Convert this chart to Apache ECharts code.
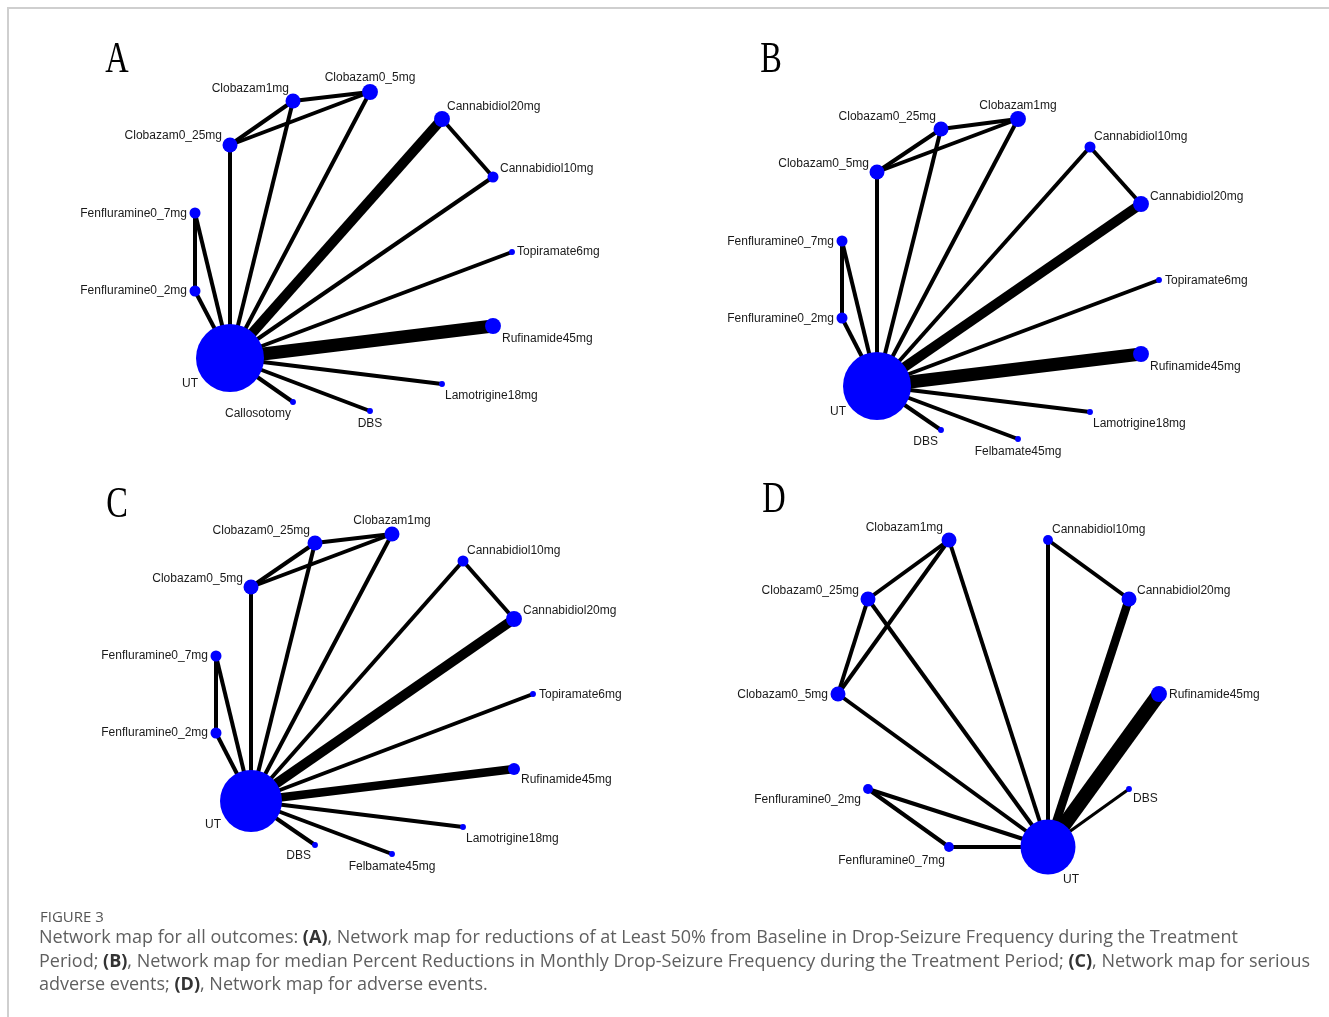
<!DOCTYPE html>
<html>
<head>
<meta charset="utf-8">
<script src="https://cdn.jsdelivr.net/npm/echarts@6/dist/echarts.min.js"></script>
<style>
  html, body { margin: 0; padding: 0; background: #fff; }
  #chart { width: 1329px; height: 1017px; }
</style>
</head>
<body>
<div id="chart"></div>
<script>
// ---- panel A: >=50% reduction in drop-seizure frequency ----
const nodesA = ['UT', 'Clobazam0_25mg', 'Clobazam1mg', 'Clobazam0_5mg', 'Cannabidiol20mg', 'Cannabidiol10mg',
  'Fenfluramine0_7mg', 'Fenfluramine0_2mg', 'Topiramate6mg', 'Rufinamide45mg', 'Lamotrigine18mg', 'DBS', 'Callosotomy'];
const xA = [160, 160, 223, 300, 372, 423, 125, 125, 442, 423, 372, 300, 223];
const yA = [318, 105, 61, 52, 79, 137, 173, 251, 212, 286, 344, 371, 362];
const patientsA = [803, 39, 39, 44, 44, 21, 21, 21, 6, 44, 6, 6, 6];
const linksA = [
  ['UT', 'Clobazam0_25mg', 1], ['UT', 'Clobazam1mg', 1], ['UT', 'Clobazam0_5mg', 1], ['UT', 'Cannabidiol20mg', 3],
  ['UT', 'Cannabidiol10mg', 1], ['UT', 'Fenfluramine0_7mg', 1], ['UT', 'Fenfluramine0_2mg', 1], ['UT', 'Topiramate6mg', 1],
  ['UT', 'Rufinamide45mg', 4], ['UT', 'Lamotrigine18mg', 1], ['UT', 'DBS', 1], ['UT', 'Callosotomy', 1],
  ['Clobazam0_25mg', 'Clobazam1mg', 1], ['Clobazam0_25mg', 'Clobazam0_5mg', 1], ['Clobazam1mg', 'Clobazam0_5mg', 1],
  ['Cannabidiol20mg', 'Cannabidiol10mg', 1], ['Fenfluramine0_7mg', 'Fenfluramine0_2mg', 1]
];

// ---- panel B: median percent reduction ----
const nodesB = ['UT', 'Clobazam0_25mg', 'Clobazam1mg', 'Clobazam0_5mg', 'Cannabidiol10mg', 'Cannabidiol20mg',
  'Fenfluramine0_7mg', 'Fenfluramine0_2mg', 'Topiramate6mg', 'Rufinamide45mg', 'Lamotrigine18mg', 'Felbamate45mg', 'DBS'];
const xB = [177, 241, 318, 177, 390, 441, 142, 142, 459, 441, 390, 318, 241];
const yB = [346, 89, 79, 132, 107, 164, 201, 278, 240, 314, 372, 399, 390];
const patientsB = [803, 39, 44, 39, 21, 44, 21, 21, 6, 44, 6, 6, 6];
const linksB = [
  ['UT', 'Clobazam0_25mg', 1], ['UT', 'Clobazam1mg', 1], ['UT', 'Clobazam0_5mg', 1], ['UT', 'Cannabidiol10mg', 1],
  ['UT', 'Cannabidiol20mg', 3], ['UT', 'Fenfluramine0_7mg', 1], ['UT', 'Fenfluramine0_2mg', 1], ['UT', 'Topiramate6mg', 1],
  ['UT', 'Rufinamide45mg', 4], ['UT', 'Lamotrigine18mg', 1], ['UT', 'Felbamate45mg', 1], ['UT', 'DBS', 1],
  ['Clobazam0_25mg', 'Clobazam1mg', 1], ['Clobazam0_5mg', 'Clobazam0_25mg', 1], ['Clobazam0_5mg', 'Clobazam1mg', 1],
  ['Cannabidiol10mg', 'Cannabidiol20mg', 1], ['Fenfluramine0_7mg', 'Fenfluramine0_2mg', 1]
];

// ---- panel C: serious adverse events ----
const nodesC = nodesB;
const xC = [181, 245, 322, 181, 393, 444, 146, 146, 463, 444, 393, 322, 245];
const yC = [321, 63, 54, 107, 81, 139, 176, 253, 214, 289, 347, 374, 365];
const patientsC = [667, 39, 39, 39, 21, 44, 21, 21, 6, 25, 6, 6, 6];
const linksC = [
  ['UT', 'Clobazam0_25mg', 1], ['UT', 'Clobazam1mg', 1], ['UT', 'Clobazam0_5mg', 1], ['UT', 'Cannabidiol10mg', 1],
  ['UT', 'Cannabidiol20mg', 3], ['UT', 'Fenfluramine0_7mg', 1], ['UT', 'Fenfluramine0_2mg', 1], ['UT', 'Topiramate6mg', 1],
  ['UT', 'Rufinamide45mg', 2.5], ['UT', 'Lamotrigine18mg', 1], ['UT', 'Felbamate45mg', 1], ['UT', 'DBS', 1],
  ['Clobazam0_25mg', 'Clobazam1mg', 1], ['Clobazam0_5mg', 'Clobazam0_25mg', 1], ['Clobazam0_5mg', 'Clobazam1mg', 1],
  ['Cannabidiol10mg', 'Cannabidiol20mg', 1], ['Fenfluramine0_7mg', 'Fenfluramine0_2mg', 1]
];

// ---- panel D: adverse events ----
const nodesD = ['UT', 'Clobazam1mg', 'Cannabidiol10mg', 'Clobazam0_25mg', 'Cannabidiol20mg', 'Clobazam0_5mg',
  'Rufinamide45mg', 'Fenfluramine0_2mg', 'DBS', 'Fenfluramine0_7mg'];
const xD = [348, 249, 348, 168, 429, 138, 459, 168, 429, 249];
const yD = [367, 60, 60, 119, 119, 214, 214, 309, 309, 367];
const patientsD = [525, 39, 17, 39, 39, 39, 44, 17, 6, 17];
const linksD = [
  ['UT', 'Clobazam1mg', 1], ['UT', 'Clobazam0_25mg', 1], ['UT', 'Clobazam0_5mg', 1], ['UT', 'Cannabidiol10mg', 1],
  ['UT', 'Cannabidiol20mg', 2.5], ['UT', 'Rufinamide45mg', 4.5], ['UT', 'DBS', 0.7], ['UT', 'Fenfluramine0_2mg', 1],
  ['UT', 'Fenfluramine0_7mg', 1], ['Clobazam1mg', 'Clobazam0_25mg', 1], ['Clobazam1mg', 'Clobazam0_5mg', 1],
  ['Clobazam0_25mg', 'Clobazam0_5mg', 1], ['Cannabidiol10mg', 'Cannabidiol20mg', 1], ['Fenfluramine0_2mg', 'Fenfluramine0_7mg', 1]
];

const panelLetters = ['A', 'B', 'C', 'D'];
const captionHead = 'FIGURE 3';
const captionLines = [
  'Network map for all outcomes: {b|(A)}, Network map for reductions of at Least 50% from Baseline in Drop-Seizure Frequency during the Treatment',
  'Period; {b|(B)}, Network map for median Percent Reductions in Monthly Drop-Seizure Frequency during the Treatment Period; {b|(C)}, Network map for serious',
  'adverse events; {b|(D)}, Network map for adverse events.'
];

// label placement per node: [align, dx, dy] from node centre
const labA = {
  UT: ['right', -32, 26], Clobazam0_25mg: ['right', -8, -9], Clobazam1mg: ['right', -4, -12], Clobazam0_5mg: ['center', 0, -14],
  Cannabidiol20mg: ['left', 5, -12], Cannabidiol10mg: ['left', 7, -8], Fenfluramine0_7mg: ['right', -8, 1],
  Fenfluramine0_2mg: ['right', -8, 0], Topiramate6mg: ['left', 5, 0], Rufinamide45mg: ['left', 9, 13],
  Lamotrigine18mg: ['left', 3, 12], DBS: ['center', 0, 13], Callosotomy: ['right', -2, 12]
};
const labB = {
  UT: ['right', -31, 26], Clobazam0_25mg: ['right', -5, -12], Clobazam1mg: ['center', 0, -13], Clobazam0_5mg: ['right', -8, -8],
  Cannabidiol10mg: ['left', 4, -10], Cannabidiol20mg: ['left', 9, -7], Fenfluramine0_7mg: ['right', -8, 1],
  Fenfluramine0_2mg: ['right', -8, 1], Topiramate6mg: ['left', 6, 1], Rufinamide45mg: ['left', 9, 13],
  Lamotrigine18mg: ['left', 3, 12], Felbamate45mg: ['center', 0, 13], DBS: ['right', -3, 12]
};
const labC = {
  UT: ['right', -30, 24], Clobazam0_25mg: ['right', -5, -12], Clobazam1mg: ['center', 0, -13], Clobazam0_5mg: ['right', -8, -8],
  Cannabidiol10mg: ['left', 4, -10], Cannabidiol20mg: ['left', 9, -8], Fenfluramine0_7mg: ['right', -8, 0],
  Fenfluramine0_2mg: ['right', -8, 0], Topiramate6mg: ['left', 6, 1], Rufinamide45mg: ['left', 7, 11],
  Lamotrigine18mg: ['left', 3, 12], Felbamate45mg: ['center', 0, 13], DBS: ['right', -4, 11]
};
const labD = {
  UT: ['left', 15, 33], Clobazam1mg: ['right', -6, -12], Cannabidiol10mg: ['left', 4, -10], Clobazam0_25mg: ['right', -9, -8],
  Cannabidiol20mg: ['left', 8, -8], Clobazam0_5mg: ['right', -10, 1], Rufinamide45mg: ['left', 10, 1],
  Fenfluramine0_2mg: ['right', -7, 11], DBS: ['left', 4, 10], Fenfluramine0_7mg: ['right', -4, 14]
};

const panels = [
  { nodes: nodesA, x: xA, y: yA, n: patientsA, links: linksA, lab: labA, left: 70, top: 40, letter: [117, 60] },
  { nodes: nodesB, x: xB, y: yB, n: patientsB, links: linksB, lab: labB, left: 700, top: 40, letter: [771, 60] },
  { nodes: nodesC, x: xC, y: yC, n: patientsC, links: linksC, lab: labC, left: 70, top: 480, letter: [117, 505] },
  { nodes: nodesD, x: xD, y: yD, n: patientsD, links: linksD, lab: labD, left: 700, top: 480, letter: [774, 500] }
];
const PW = 600, PH = 440;

const nodeSize = n => 2.4 * Math.sqrt(n);
const linkWidth = w => 1 + 3 * w;

const chart = echarts.init(document.getElementById('chart'), null, { renderer: 'canvas' });

const grid = panels.map(p => ({ left: p.left, top: p.top, width: PW, height: PH }));
const xAxis = panels.map((p, i) => ({ type: 'value', gridIndex: i, min: 0, max: PW, show: false }));
const yAxis = panels.map((p, i) => ({ type: 'value', gridIndex: i, min: 0, max: PH, inverse: true, show: false }));

const series = panels.map((p, i) => ({
  type: 'graph',
  coordinateSystem: 'cartesian2d',
  xAxisIndex: i,
  yAxisIndex: i,
  layout: 'none',
  roam: false,
  silent: true,
  itemStyle: { color: '#0000ff' },
  lineStyle: { color: '#000', opacity: 1, curveness: 0 },
  emphasis: { disabled: true },
  data: p.nodes.map((name, k) => {
    const l = p.lab[name];
    return {
      name,
      value: [p.x[k], p.y[k]],
      symbolSize: nodeSize(p.n[k]),
      label: {
        show: true,
        position: 'inside',
        align: l[0],
        verticalAlign: 'middle',
        offset: [l[1], l[2]],
        color: '#1a1a1a',
        fontSize: 12,
        fontFamily: 'Liberation Sans, Arial, sans-serif'
      }
    };
  }),
  links: p.links.map(([s, t, w]) => ({ source: s, target: t, lineStyle: { width: linkWidth(w) } }))
}));

const graphic = [
  { type: 'line', shape: { x1: 7, y1: 8, x2: 1329, y2: 8 }, style: { stroke: '#cfcfcf', lineWidth: 2 } },
  { type: 'line', shape: { x1: 8, y1: 8, x2: 8, y2: 1017 }, style: { stroke: '#cfcfcf', lineWidth: 2 } },
  ...panels.map((p, i) => ({
    type: 'text', x: p.letter[0], y: p.letter[1], scaleX: 0.72,
    style: { text: panelLetters[i], font: '45px "Liberation Serif", serif', fill: '#000', align: 'center', verticalAlign: 'middle' }
  })),
  {
    type: 'text', x: 40, y: 918,
    style: { text: captionHead, font: '15px "Open Sans", sans-serif', fill: '#555', verticalAlign: 'middle' }
  },
  ...captionLines.map((t, i) => ({
    type: 'text', x: 39, y: 938 + i * 23.5,
    style: {
      text: t, font: '18px "Open Sans", sans-serif', fill: '#5f5f5f', verticalAlign: 'middle',
      rich: { b: { fontWeight: 'bold', fontSize: 18, fontFamily: 'Open Sans', fill: '#333' } }
    }
  }))
];

chart.setOption({
  animation: false,
  backgroundColor: '#fff',
  grid, xAxis, yAxis, series, graphic
});
window.addEventListener('resize', () => chart.resize());
</script>
</body>
</html>
